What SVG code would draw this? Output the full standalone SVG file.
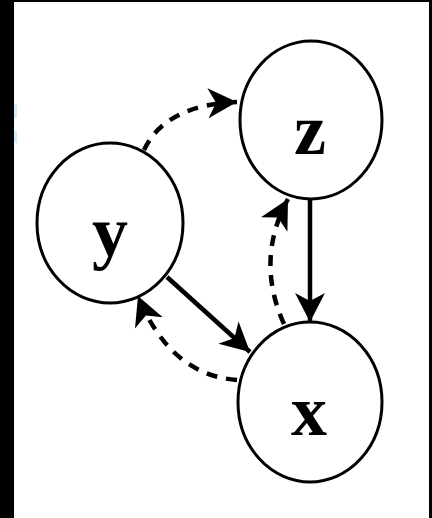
<svg xmlns="http://www.w3.org/2000/svg" width="432" height="518" viewBox="0 0 432 518">
<style>
.node ellipse{fill:#fff;stroke:#000;stroke-width:3}
.node text{font-family:"Liberation Serif","Times New Roman",serif;font-weight:bold;font-size:72px;text-anchor:middle;fill:#000}
.edge{fill:none;stroke:#000;stroke-width:4.5}
.dash{stroke-dasharray:11 9}
</style>
<defs>
<marker id="ah" viewBox="-32 -18 34 36" refX="0" refY="0" markerWidth="34" markerHeight="36" markerUnits="userSpaceOnUse" orient="auto">
<path d="M0,0 L-29,-15 L-21,0 L-29,15 Z" fill="#000"/>
</marker>
</defs>
<rect x="0" y="0" width="432" height="518" fill="#fff"/>
<rect x="0" y="0" width="14" height="518" fill="#000"/>
<rect x="0" y="0" width="432" height="2" fill="#000"/>
<rect x="429" y="0" width="3" height="518" fill="#000"/>
<rect x="14" y="104" width="3" height="14" fill="#cdeefc"/>
<rect x="14" y="131" width="3" height="12" fill="#cdeefc"/>
<g id="node-z" class="node"><ellipse cx="311" cy="120" rx="71" ry="79"/><text x="310" y="154">z</text></g>
<g id="node-y" class="node"><ellipse cx="110" cy="223" rx="73" ry="80"/><text x="110" y="256">y</text></g>
<g id="node-x" class="node"><ellipse cx="310" cy="402" rx="72" ry="80"/><text x="309" y="435">x</text></g>
<g id="connectors">
<path class="edge dash" d="M144 150 Q165 105 237 102" marker-end="url(#ah)"/>
<path class="edge" d="M167 277 L250 352" marker-end="url(#ah)"/>
<path class="edge dash" d="M237 380 Q170 375 138 296" marker-end="url(#ah)"/>
<path class="edge dash" d="M284 324 Q255 260 288 199" marker-end="url(#ah)"/>
<path class="edge" d="M310 200 L310 322" marker-end="url(#ah)"/>
</g>
</svg>
